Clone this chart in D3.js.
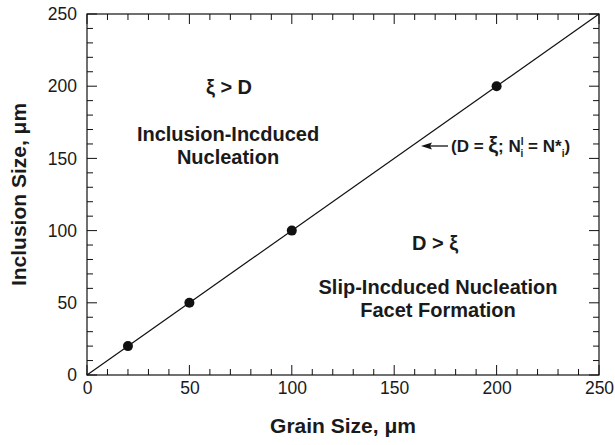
<!DOCTYPE html>
<html><head><meta charset="utf-8">
<script src="https://cdn.jsdelivr.net/npm/d3@7"></script>
<style>body{margin:0;background:#fff}svg{display:block}text{font-family:"Liberation Sans",Arial,sans-serif;fill:#1a1a1a}</style>
</head><body><svg id="c" width="615" height="445"></svg>
<script>
// Measured grain size vs inclusion size
const grainSize = [20, 50, 100, 200];
const inclusionSize = [20, 50, 100, 200];
// D = xi boundary
const boundaryX = [0, 250];
const boundaryY = [0, 250];
const xTicks = [0, 50, 100, 150, 200, 250];
const yTicks = [0, 50, 100, 150, 200, 250];

const svg = d3.select("#c");
const m = {l: 87, r: 599, t: 14, b: 375};
const x = d3.scaleLinear().domain([0, 250]).range([m.l, m.r]);
const y = d3.scaleLinear().domain([0, 250]).range([m.b, m.t]);

const g = svg.append("g");
// frame
g.append("rect").attr("x", m.l).attr("y", m.t).attr("width", m.r - m.l).attr("height", m.b - m.t)
  .attr("fill", "none").attr("stroke", "#111").attr("stroke-width", 1.2);

// inward ticks on all four sides
const minor = d3.range(0, 251, 10);
function tickLen(v){ return v % 50 === 0 ? 10 : 6; }
minor.forEach(v => {
  const L = tickLen(v);
  g.append("line").attr("x1", x(v)).attr("x2", x(v)).attr("y1", m.b).attr("y2", m.b - L).attr("stroke", "#111");
  g.append("line").attr("x1", x(v)).attr("x2", x(v)).attr("y1", m.t).attr("y2", m.t + L).attr("stroke", "#111");
  g.append("line").attr("y1", y(v)).attr("y2", y(v)).attr("x1", m.l).attr("x2", m.l + L).attr("stroke", "#111");
  g.append("line").attr("y1", y(v)).attr("y2", y(v)).attr("x1", m.r).attr("x2", m.r - L).attr("stroke", "#111");
});

// tick labels via axes
const xAxis = d3.axisBottom(x).tickValues(xTicks).tickSize(0).tickPadding(7);
const yAxis = d3.axisLeft(y).tickValues(yTicks).tickSize(0).tickPadding(10);
const xa = svg.append("g").attr("transform", `translate(0,${m.b})`).call(xAxis);
const ya = svg.append("g").attr("transform", `translate(${m.l},0)`).call(yAxis);
[xa, ya].forEach(a => {
  a.select(".domain").remove();
  a.selectAll("text").attr("font-size", 17.5).attr("font-family", "Liberation Sans, Arial, sans-serif").attr("fill", "#1a1a1a");
});

// boundary line
const line = d3.line().x((d, i) => x(boundaryX[i])).y((d, i) => y(boundaryY[i]));
svg.append("path").datum(boundaryX).attr("d", line).attr("fill", "none").attr("stroke", "#111").attr("stroke-width", 1.2);

// points
svg.selectAll("circle.pt").data(grainSize).join("circle")
  .attr("cx", d => x(d)).attr("cy", (d, i) => y(inclusionSize[i])).attr("r", 5).attr("fill", "#111");

// axis titles
svg.append("text").attr("x", (m.l + m.r) / 2).attr("y", 433).attr("text-anchor", "middle")
  .attr("font-size", 21).attr("font-weight", "bold").text("Grain Size, μm");
svg.append("text").attr("transform", `translate(26,${(m.t + m.b) / 2}) rotate(-90)`).attr("text-anchor", "middle")
  .attr("font-size", 21).attr("font-weight", "bold").text("Inclusion Size, μm");

// region annotations
function label(tx, ty, s, size){
  return svg.append("text").attr("x", tx).attr("y", ty).attr("text-anchor", "middle")
    .attr("font-size", size || 20).attr("font-weight", "bold").text(s);
}
label(229, 94, "ξ > D", 20);
label(228, 141, "Inclusion-Incduced");
label(228, 164, "Nucleation");
label(435, 250, "D > ξ", 20);
label(438, 294, "Slip-Incduced Nucleation");
label(438, 317, "Facet Formation");

// boundary annotation with arrow
const ay = 146;
svg.append("line").attr("x1", 448).attr("x2", 425).attr("y1", ay).attr("y2", ay).attr("stroke", "#111").attr("stroke-width", 1.3);
svg.append("path").attr("d", `M421,${ay} L432,${ay - 3.5} L430,${ay} L432,${ay + 3.5} Z`).attr("fill", "#111");
const t = svg.append("text").attr("x", 451).attr("y", ay + 6).attr("font-size", 17).attr("font-weight", "bold");
t.append("tspan").text("(D = ");
t.append("tspan").attr("font-size", 22).text("ξ");
t.append("tspan").text("; N");
t.append("tspan").attr("font-size", 10).attr("dy", -7).text("I");
t.append("tspan").attr("font-size", 10).attr("dy", 12).attr("dx", -3).text("i");
t.append("tspan").attr("dy", -5).text(" = N*");
t.append("tspan").attr("font-size", 10).attr("dy", 5).text("i");
t.append("tspan").attr("dy", -5).text(")");
</script></body></html>
